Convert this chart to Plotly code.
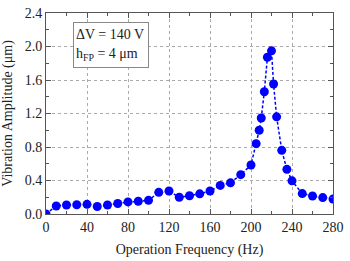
import plotly.graph_objects as go

freq = [0, 10, 20, 30, 40, 50, 60, 70, 80, 90, 100, 110, 120, 130, 140, 150, 160, 170, 180, 190,
        200, 205, 208, 210, 213, 216, 220, 222, 225, 230, 235, 240, 250, 260, 270, 280]
amp = [0.0, 0.096, 0.107, 0.111, 0.115, 0.089, 0.107, 0.126, 0.144, 0.152, 0.163, 0.259, 0.274,
       0.2, 0.218, 0.241, 0.274, 0.341, 0.372, 0.47,
       0.585, 0.84, 1.0, 1.146, 1.46, 1.872, 1.948, 1.552, 1.16, 0.76, 0.533, 0.396, 0.244, 0.215, 0.196, 0.178]

xticks = [0, 40, 80, 120, 160, 200, 240, 280]
yticks = [0.0, 0.4, 0.8, 1.2, 1.6, 2.0, 2.4]
ytick_text = ["0.0", "0.4", "0.8", "1.2", "1.6", "2.0", "2.4"]

font = "Liberation Serif, Times New Roman, serif"

fig = go.Figure()
fig.add_trace(go.Scatter(
    x=freq, y=amp, mode="lines+markers",
    line=dict(color="#0000FF", width=1.5, dash="3px,2px"),
    marker=dict(color="#0000FF", size=9),
    cliponaxis=True,
))

axis_common = dict(
    showline=True, linecolor="#555", linewidth=1, mirror="ticks",
    ticks="inside", ticklen=5, tickcolor="#555", tickwidth=1,
    showgrid=True, gridcolor="#aaa", griddash="dot", gridwidth=1,
    zeroline=False, ticklabeloverflow="allow",
    tickfont=dict(family=font, size=14, color="#222"),
)

fig.update_xaxes(
    range=[0, 280.001], tickvals=xticks,
    minor=dict(ticks="inside", ticklen=3, tickcolor="#555", dtick=20, tick0=0, showgrid=False),
    title=dict(text="Operation Frequency (Hz)", font=dict(family=font, size=14, color="#222"), standoff=10),
    **axis_common,
)
fig.update_yaxes(
    range=[0, 2.40001], tickvals=yticks, ticktext=ytick_text,
    minor=dict(ticks="inside", ticklen=3, tickcolor="#555", dtick=0.2, tick0=0, showgrid=False),
    title=dict(text="Vibration Amplitude (μm)", font=dict(family=font, size=14, color="#222"), standoff=9),
    **axis_common,
)

fig.add_annotation(
    xref="paper", yref="paper", x=0.095, y=0.955, xanchor="left", yanchor="top",
    text="ΔV = 140 V<br>h<sub>FP</sub> = 4 μm", showarrow=False, align="left",
    width=70, height=40,
    font=dict(family=font, size=14, color="#222"),
    bordercolor="#888", borderwidth=1, borderpad=2, bgcolor="white",
)

fig.update_layout(
    width=350, height=261,
    margin=dict(l=46, r=10, t=6, b=39),
    paper_bgcolor="white", plot_bgcolor="white",
    showlegend=False,
)

fig.write_html("out.html", config={"displayModeBar": False},
               post_script="document.body.style.margin='0';")
